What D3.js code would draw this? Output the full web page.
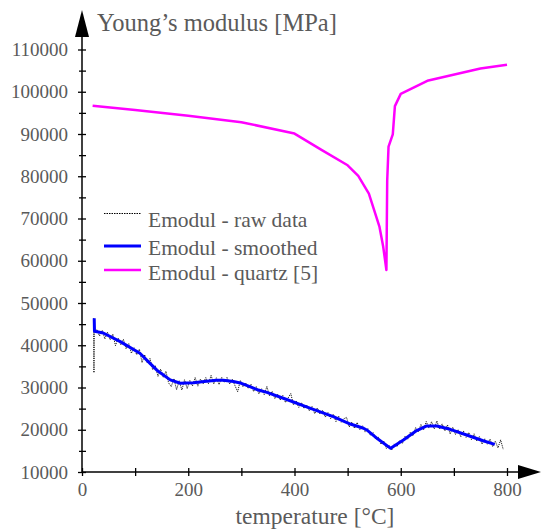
<!DOCTYPE html>
<html><head><meta charset="utf-8">
<script src="https://cdn.jsdelivr.net/npm/d3@7"></script>
<style>
html,body{margin:0;padding:0;background:#fff;}
svg{display:block;}
text{font-family:"Liberation Serif","DejaVu Serif",serif;fill:#5a5a5a;}
</style></head>
<body>
<script>
// ---- data ----
const xTicksMajor = [0, 200, 400, 600, 800];
const xTicksMinor = [100, 300, 500, 700];
const yTicksMajor = [10000, 20000, 30000, 40000, 50000, 60000, 70000, 80000, 90000, 100000, 110000];
const yTicksMinor = [15000, 25000, 35000, 45000, 55000, 65000, 75000, 85000, 95000, 105000];
const xTitle = "temperature [°C]";
const yTitle = "Young’s modulus [MPa]";
const seriesNames = ["Emodul - raw data", "Emodul - smoothed", "Emodul - quartz [5]"];

const quartzX = [20, 100, 200, 300, 400, 450, 500, 520, 540, 560, 567, 573, 574.5, 577, 585, 589, 600, 650, 750, 800];
const quartzY = [96700, 95700, 94300, 92800, 90100, 86300, 82600, 80100, 75900, 68000, 63300, 57800, 79000, 87000, 89900, 96600, 99500, 102600, 105500, 106400];

const smoothX = [23, 23.5, 40, 72, 109, 128, 141, 166, 185, 210, 230, 253, 266, 285, 300, 316, 332, 348, 379, 429, 473, 505, 530, 536, 557, 581, 605, 630, 649, 668, 693, 724, 755, 777];
const smoothY = [46400, 43300, 42900, 40850, 38100, 35700, 34100, 31800, 31000, 31100, 31400, 31700, 31700, 31400, 31000, 30200, 29400, 28850, 27450, 25100, 23100, 21350, 20350, 19950, 17800, 15600, 17570, 19800, 20900, 20900, 20100, 18750, 17400, 16550];

const rawX = [22, 22.5, 23, 28, 33, 38, 43, 48, 53, 58, 63, 68, 73, 78, 83, 88, 93, 98, 103, 108, 113, 118, 123, 128, 133, 138, 143, 148, 153, 158, 163, 168, 173, 178, 183, 188, 193, 198, 203, 208, 213, 218, 223, 228, 233, 238, 243, 248, 253, 258, 263, 268, 273, 278, 283, 288, 293, 298, 303, 308, 313, 318, 323, 328, 333, 338, 343, 348, 353, 358, 363, 368, 373, 378, 383, 388, 393, 398, 403, 408, 413, 418, 423, 428, 433, 438, 443, 448, 453, 458, 463, 468, 473, 478, 483, 488, 493, 498, 503, 508, 513, 518, 523, 528, 533, 538, 543, 548, 553, 558, 563, 568, 573, 578, 583, 588, 593, 598, 603, 608, 613, 618, 623, 628, 633, 638, 643, 648, 653, 658, 663, 668, 673, 678, 683, 688, 693, 698, 703, 708, 713, 718, 723, 728, 733, 738, 743, 748, 753, 758, 763, 768, 773, 778, 783, 788, 793];
const rawY = [46400, 33500, 43200, 43700, 42200, 43550, 41500, 43100, 41300, 42650, 39900, 41700, 40100, 41400, 39150, 40370, 38100, 39420, 37750, 39080, 35900, 37770, 35730, 36900, 34180, 35170, 32620, 34360, 32400, 33840, 31080, 30220, 32100, 29490, 31580, 29410, 31830, 29750, 31670, 30390, 32350, 30320, 32000, 30870, 32340, 30900, 32870, 30830, 32300, 30700, 32400, 31170, 32390, 30810, 31930, 30420, 28990, 31650, 30150, 31100, 29750, 30800, 29050, 30200, 28470, 29690, 28320, 30250, 28020, 29100, 27370, 28450, 27020, 28100, 26460, 27530, 28590, 25860, 26820, 25290, 26450, 25020, 25880, 24450, 25520, 23790, 25160, 23740, 24610, 22980, 24050, 22630, 23700, 21930, 23250, 21780, 22610, 22930, 20660, 21830, 20330, 21730, 20030, 20930, 19450, 20250, 18640, 19320, 17710, 18210, 16550, 17390, 15530, 16280, 15160, 16670, 15990, 17500, 16710, 18440, 17780, 19430, 18580, 20520, 19470, 21260, 19950, 21940, 20400, 21900, 20200, 22100, 20140, 21380, 19720, 21160, 19000, 20580, 18860, 20040, 18330, 19710, 18190, 19370, 17650, 19040, 17320, 18400, 16590, 17880, 16590, 17800, 16000, 17300, 15700, 17600, 15300];

// ---- drawing ----
const W = 541, H = 531;
const svg = d3.select("body").append("svg").attr("width", W).attr("height", H);

const x = d3.scaleLinear().domain([0, 800]).range([82, 507]);
const y = d3.scaleLinear().domain([10000, 110000]).range([472, 49.5]);

const line = d3.line().x(d => x(d[0])).y(d => y(d[1]));
const zip = (a, b) => a.map((v, i) => [v, b[i]]);

// data lines
svg.append("path").datum(zip(rawX, rawY)).attr("d", line)
  .attr("fill", "none").attr("stroke", "#000").attr("stroke-width", 0.9).attr("stroke-dasharray", "1.2,1");
svg.append("path").datum(zip(smoothX, smoothY)).attr("d", line)
  .attr("fill", "none").attr("stroke", "#0000ff").attr("stroke-width", 3).attr("stroke-linejoin", "round");
svg.append("path").datum(zip(quartzX, quartzY)).attr("d", line)
  .attr("fill", "none").attr("stroke", "#ff00ff").attr("stroke-width", 2.5).attr("stroke-linejoin", "round");

// axes
const gx = svg.append("g").attr("transform", `translate(0,${y(10000)})`);
gx.call(d3.axisBottom(x).tickValues(xTicksMajor).tickSize(4).tickPadding(6).tickFormat(d3.format("d")));
gx.selectAll(".tick line").attr("y1", -4).attr("y2", 4).attr("stroke", "#000").attr("stroke-width", 1.3);
gx.selectAll(".tick text").attr("font-size", 19).attr("fill", "#5a5a5a").attr("font-family", "Liberation Serif").attr("dy", "0.75em");
gx.select(".domain").remove();
const gxm = svg.append("g").attr("transform", `translate(0,${y(10000)})`);
gxm.call(d3.axisBottom(x).tickValues(xTicksMinor).tickSize(4).tickFormat(""));
gxm.selectAll(".tick line").attr("y1", -4).attr("y2", 4).attr("stroke", "#000").attr("stroke-width", 1.3);
gxm.select(".domain").remove();

const gy = svg.append("g").attr("transform", `translate(${x(0)},0)`);
gy.call(d3.axisLeft(y).tickValues(yTicksMajor).tickSize(4).tickPadding(10).tickFormat(d3.format("d")));
gy.selectAll(".tick line").attr("x1", -4).attr("x2", 4).attr("stroke", "#000").attr("stroke-width", 1.3);
gy.selectAll(".tick text").attr("font-size", 19).attr("fill", "#5a5a5a").attr("font-family", "Liberation Serif");
gy.select(".domain").remove();
const gym = svg.append("g").attr("transform", `translate(${x(0)},0)`);
gym.call(d3.axisLeft(y).tickValues(yTicksMinor).tickSize(4).tickFormat(""));
gym.selectAll(".tick line").attr("x1", -3).attr("x2", 4).attr("stroke", "#000").attr("stroke-width", 1.3);
gym.select(".domain").remove();

// axis lines with arrows
const x0 = x(0), y0 = y(10000);
svg.append("line").attr("x1", x0).attr("y1", y0).attr("x2", 520).attr("y2", y0).attr("stroke", "#000").attr("stroke-width", 1.5);
svg.append("line").attr("x1", x0).attr("y1", y0).attr("x2", x0).attr("y2", 36).attr("stroke", "#000").attr("stroke-width", 1.5);
svg.append("path").attr("d", `M541,${y0} L518,${y0 - 7} L518,${y0 + 7} Z`).attr("fill", "#000");
svg.append("path").attr("d", `M${x0},10 L${x0 - 7},37 L${x0 + 7},37 Z`).attr("fill", "#000");

// titles
svg.append("text").attr("x", 97).attr("y", 31).attr("font-size", 24.5).text(yTitle);
svg.append("text").attr("x", 315).attr("y", 524).attr("text-anchor", "middle").attr("font-size", 23.5).text(xTitle);

// legend
const legRows = [
  {lineY: 213.5, textY: 227, stroke: "#000", w: 1, dash: "1.5,1"},
  {lineY: 246, textY: 255, stroke: "#0000ff", w: 3, dash: null},
  {lineY: 270, textY: 280, stroke: "#ff00ff", w: 2.5, dash: null}
];
legRows.forEach((r, i) => {
  svg.append("line").attr("x1", 104).attr("x2", 141).attr("y1", r.lineY).attr("y2", r.lineY)
    .attr("stroke", r.stroke).attr("stroke-width", r.w).attr("stroke-dasharray", r.dash);
  svg.append("text").attr("x", 148).attr("y", r.textY).attr("font-size", 21.5).text(seriesNames[i]);
});
</script>
</body></html>
